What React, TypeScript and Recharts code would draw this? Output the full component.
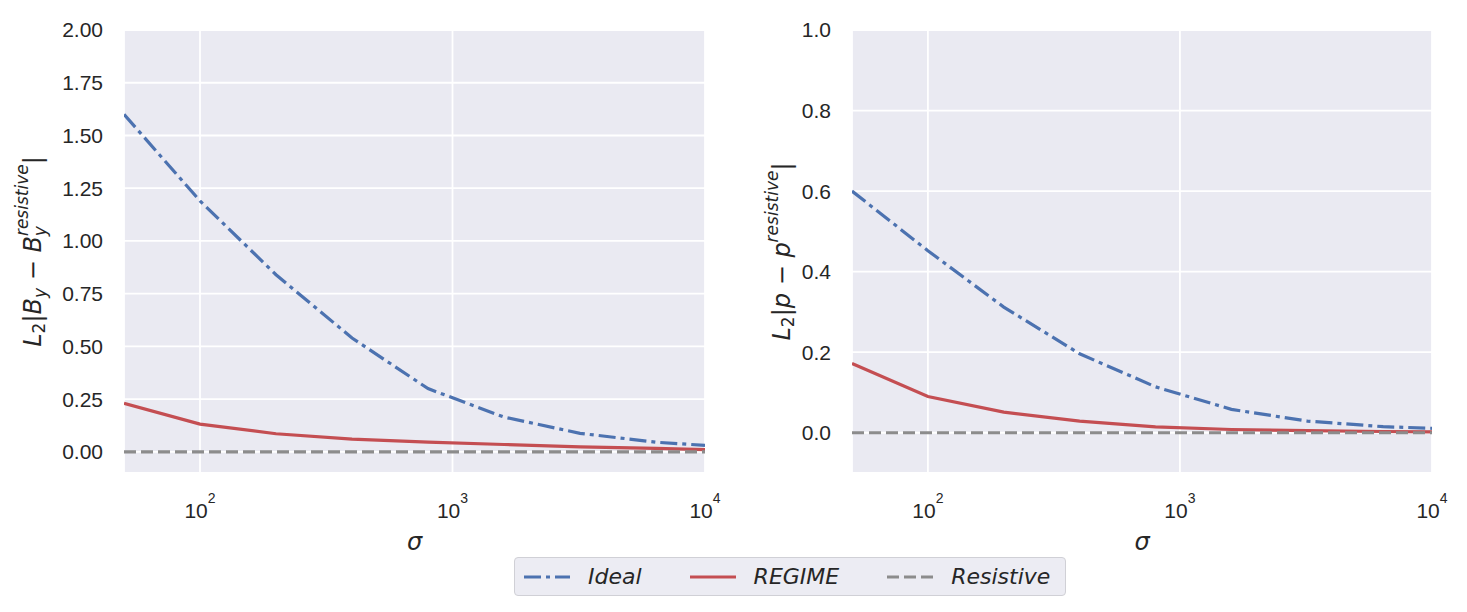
import React from 'react';
import { LineChart, Line, XAxis, YAxis, CartesianGrid } from 'recharts';

// Convergence of the REGIME and ideal solutions towards the resistive
// reference as the conductivity sigma grows. Two panels share the x grid.

const sigma = [50, 100, 200, 400, 800, 1600, 3200, 6400, 10000];

// L2 error of B_y
const idealB = [1.6, 1.19, 0.84, 0.54, 0.3, 0.165, 0.088, 0.046, 0.031];
const regimeB = [0.23, 0.132, 0.086, 0.061, 0.046, 0.035, 0.024, 0.017, 0.011];
const resistiveB = [0, 0, 0, 0, 0, 0, 0, 0, 0];

// L2 error of p
const idealP = [0.6, 0.452, 0.312, 0.196, 0.114, 0.058, 0.029, 0.015, 0.011];
const regimeP = [0.172, 0.09, 0.051, 0.029, 0.0145, 0.008, 0.005, 0.003, 0.002];
const resistiveP = [0, 0, 0, 0, 0, 0, 0, 0, 0];

const xTicks = [100, 1000, 10000];
const bTicks = [0, 0.25, 0.5, 0.75, 1, 1.25, 1.5, 1.75, 2];
const pTicks = [0, 0.2, 0.4, 0.6, 0.8, 1];

const INK = '#262626';
const FACE = '#EAEAF2';
const TICK_FONT = '"Liberation Sans", Arial, sans-serif';
const MATH_FONT = '"DejaVu Sans", sans-serif';
const LINE_W = 3.2;

const SERIES = [
  { key: 'ideal', name: 'Ideal', color: '#4C72B0', dash: '17 5 4 5' },
  { key: 'regime', name: 'REGIME', color: '#C44E52', dash: undefined },
  { key: 'resistive', name: 'Resistive', color: '#8C8C8C', dash: '12 5' },
];

const rows = (ideal: number[], regime: number[], resistive: number[]) =>
  sigma.map((s, i) => ({ sigma: s, ideal: ideal[i], regime: regime[i], resistive: resistive[i] }));

const bRows = rows(idealB, regimeB, resistiveB);
const pRows = rows(idealP, regimeP, resistiveP);

// 10^k tick with a raised exponent
function PowerTick(props: any) {
  const { x, y, payload } = props;
  const exp = Math.round(Math.log10(payload.value));
  return (
    <text x={x} y={y + 45} textAnchor="middle" fill={INK} fontFamily={TICK_FONT} fontSize={21}>
      10
      <tspan fontSize={14} dy={-15}>{exp}</tspan>
    </text>
  );
}

function SigmaLabel(props: any) {
  const { x, y, width } = props.viewBox;
  return (
    <text x={x + width / 2} y={y + 77} textAnchor="middle" fill={INK} fontFamily={MATH_FONT}
      fontSize={24} fontStyle="italic">
      σ
    </text>
  );
}

function RotatedTitle(props: any) {
  const { x, y, width, height } = props.viewBox;
  const bx = x + width - props.gap;
  const cy = y + height / 2;
  return (
    <text transform={`translate(${bx},${cy}) rotate(-90)`} textAnchor="middle" fill={INK}
      fontFamily={MATH_FONT} fontSize={24}>
      {props.children}
    </text>
  );
}

const ByTitle = (
  <>
    <tspan fontStyle="italic">L</tspan>
    <tspan fontSize={17} dy={4}>2</tspan>
    <tspan dy={-4}>|</tspan>
    <tspan fontStyle="italic">B</tspan>
    <tspan fontStyle="italic" fontSize={17} dy={5}>y</tspan>
    <tspan dy={-5}>{' − '}</tspan>
    <tspan fontStyle="italic">B</tspan>
    <tspan fontStyle="italic" fontSize={17} dy={5}>y</tspan>
    <tspan fontStyle="italic" fontSize={17} dx={-10} dy={-18}>resistive</tspan>
    <tspan dy={13}>|</tspan>
  </>
);

const PTitle = (
  <>
    <tspan fontStyle="italic">L</tspan>
    <tspan fontSize={17} dy={4}>2</tspan>
    <tspan dy={-4}>|</tspan>
    <tspan fontStyle="italic">p</tspan>
    <tspan>{' − '}</tspan>
    <tspan fontStyle="italic">p</tspan>
    <tspan fontStyle="italic" fontSize={17} dy={-12}>resistive</tspan>
    <tspan dy={12}>|</tspan>
  </>
);

type PanelProps = {
  data: any[];
  width: number;
  left: number;
  right: number;
  yDomain: [number, number];
  yTicks: number[];
  digits: number;
  titleGap: number;
  title: React.ReactNode;
};

function Panel({ data, width, left, right, yDomain, yTicks, digits, titleGap, title }: PanelProps) {
  return (
    <LineChart width={width} height={612} data={data}
      margin={{ top: 30, right, bottom: 79, left }}>
      <CartesianGrid stroke="#FFFFFF" strokeWidth={1.8} fill={FACE} fillOpacity={1} />
      <XAxis dataKey="sigma" type="number" scale="log" domain={[50, 10000]} ticks={xTicks}
        allowDataOverflow axisLine={false} tickLine={false} tickSize={0} tickMargin={0}
        height={60} tick={<PowerTick />} label={<SigmaLabel />} />
      <YAxis type="number" domain={yDomain} ticks={yTicks} allowDataOverflow width={80}
        axisLine={false} tickLine={false} tickSize={0} tickMargin={21}
        tickFormatter={(v: number) => v.toFixed(digits)}
        tick={{ fill: INK, fontSize: 21, fontFamily: TICK_FONT }}
        label={<RotatedTitle gap={titleGap}>{title}</RotatedTitle>} />
      {SERIES.map((s) => (
        <Line key={s.key} type="linear" dataKey={s.key} stroke={s.color} strokeWidth={LINE_W}
          strokeDasharray={s.dash} dot={false} activeDot={false} isAnimationActive={false} />
      ))}
    </LineChart>
  );
}

function LegendBox() {
  return (
    <div style={{
      position: 'absolute', left: 514, top: 557, width: 552, height: 39, boxSizing: 'border-box',
      background: '#ECECF3', border: '1px solid #D0D0D6', borderRadius: 4,
      display: 'flex', alignItems: 'center', paddingLeft: 9,
      fontFamily: MATH_FONT, fontStyle: 'italic', fontSize: 22, color: INK,
    }}>
      {SERIES.map((s) => (
        <div key={s.key} style={{ display: 'flex', alignItems: 'center', marginRight: 48 }}>
          <svg width={46} height={10} style={{ marginRight: 18 }}>
            <line x1={0} y1={5} x2={46} y2={5} stroke={s.color} strokeWidth={LINE_W}
              strokeDasharray={s.dash} />
          </svg>
          <span>{s.name}</span>
        </div>
      ))}
    </div>
  );
}

export default function App() {
  return (
    <div style={{ position: 'absolute', left: 0, top: 0, width: 1467, height: 612, background: '#FFFFFF' }}>
      <div style={{ position: 'absolute', left: 0, top: 0 }}>
        <Panel data={bRows} width={730} left={44} right={25} yDomain={[-0.1, 2]} yTicks={bTicks}
          digits={2} titleGap={83} title={ByTitle} />
      </div>
      <div style={{ position: 'absolute', left: 740, top: 0 }}>
        <Panel data={pRows} width={727} left={32} right={35} yDomain={[-0.1, 1]} yTicks={pTicks}
          digits={1} titleGap={62} title={PTitle} />
      </div>
      <LegendBox />
    </div>
  );
}
